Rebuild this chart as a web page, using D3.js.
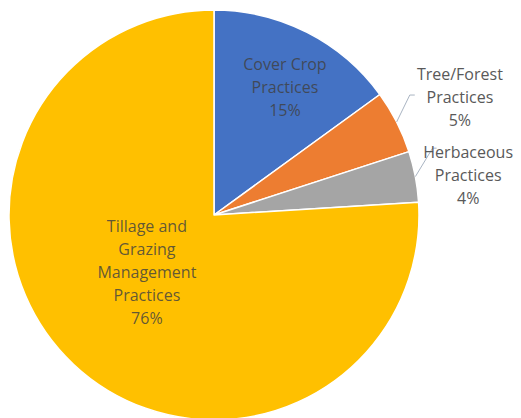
<!DOCTYPE html>
<html>
<head>
<meta charset="utf-8">
<script src="https://cdn.jsdelivr.net/npm/d3@7/dist/d3.min.js"></script>
<style>
  html, body { margin: 0; padding: 0; background: #ffffff; }
  svg { display: block; }
</style>
</head>
<body>
<svg id="chart" width="521" height="418"></svg>
<script>
// Share of practices, clockwise from 12 o'clock
const categories = ["Cover Crop Practices", "Tree/Forest Practices", "Herbaceous Practices", "Tillage and Grazing Management Practices"];
const values = [15, 5, 4, 76];
const labelLines = [
  ["Cover Crop", "Practices"],
  ["Tree/Forest", "Practices"],
  ["Herbaceous", "Practices"],
  ["Tillage and", "Grazing", "Management", "Practices"]
];
const colors = ["#4472C4", "#ED7D31", "#A5A5A5", "#FFC000"];

// Label placement: angle offset (deg) from slice middle, radius as fraction of pie radius,
// whether the label sits outside with a leader line
const labelLayout = [
  { dAngle: 2, rFrac: 0.714, outside: false },
  { dAngle: 1.4, rFrac: 1.33, outside: true, elbowFrac: 1.12, elbowAngle: 58.5, tail: 5 },
  { dAngle: 1.9, rFrac: 1.255, outside: true, elbowFrac: 1.115, elbowAngle: 73, tail: 4 },
  { dAngle: 6.4, rFrac: 0.43, outside: false }
];

const width = 521, height = 418;
const cx = 214, cy = 215, radius = 205;
const lineH = 23;

const svg = d3.select("#chart");
const g = svg.append("g").attr("transform", `translate(${cx},${cy})`);

const pie = d3.pie().sort(null).value(d => d)(values);
const arc = d3.arc().innerRadius(0).outerRadius(radius);

g.selectAll("path.slice")
  .data(pie)
  .join("path")
  .attr("class", "slice")
  .attr("d", arc)
  .attr("fill", (d, i) => colors[i])
  .attr("stroke", "#ffffff")
  .attr("stroke-width", 1.5)
  .attr("stroke-linejoin", "round");

const toRad = deg => deg * Math.PI / 180;
const polar = (angleRad, r) => [Math.sin(angleRad) * r, -Math.cos(angleRad) * r];

pie.forEach((d, i) => {
  const L = labelLayout[i];
  const mid = (d.startAngle + d.endAngle) / 2;
  const [lx, ly] = polar(mid + toRad(L.dAngle), radius * L.rFrac);
  const lines = labelLines[i].concat([d3.format(".0f")(d.value) + "%"]);
  const n = lines.length;

  if (L.outside) {
    const p0 = polar(mid, radius);
    const p1 = polar(toRad(L.elbowAngle), radius * L.elbowFrac);
    const p2 = [p1[0] + L.tail, p1[1]];
    g.append("path")
      .attr("d", d3.line()([p0, p1, p2]))
      .attr("fill", "none")
      .attr("stroke", "#a9b4c2")
      .attr("stroke-width", 1);
  }

  const text = g.append("text")
    .attr("text-anchor", "middle")
    .attr("font-family", "'Open Sans', Lato, sans-serif")
    .attr("font-size", 16)
    .attr("fill", L.outside ? "#595959" : "#404040")
    .attr("fill-opacity", L.outside ? 1 : 0.82);

  lines.forEach((t, k) => {
    text.append("tspan")
      .attr("x", lx)
      .attr("y", ly + (k - (n - 1) / 2) * lineH)
      .attr("dy", "0.35em")
      .text(t);
  });
});
</script>
</body>
</html>
